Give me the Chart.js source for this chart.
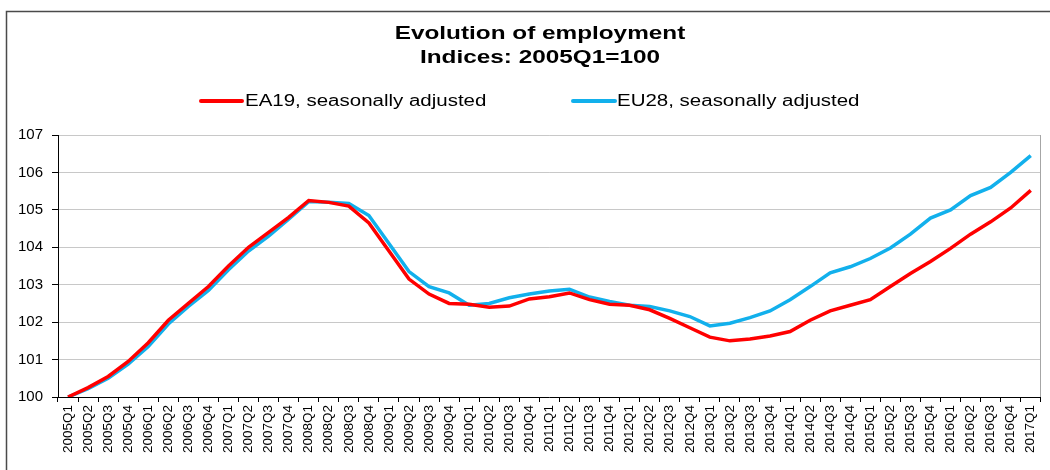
<!DOCTYPE html>
<html>
<head>
<meta charset="utf-8">
<script src="https://cdn.jsdelivr.net/npm/chart.js@4/dist/chart.umd.min.js"></script>
<style>
  html, body { margin: 0; padding: 0; background: #ffffff; }
  #wrap { width: 1050px; height: 470px; }
</style>
</head>
<body>
<div id="wrap"><canvas id="c" width="1050" height="470"></canvas></div>
<script>
// ---- data ----
const categories = [
  '2005Q1','2005Q2','2005Q3','2005Q4',
  '2006Q1','2006Q2','2006Q3','2006Q4',
  '2007Q1','2007Q2','2007Q3','2007Q4',
  '2008Q1','2008Q2','2008Q3','2008Q4',
  '2009Q1','2009Q2','2009Q3','2009Q4',
  '2010Q1','2010Q2','2010Q3','2010Q4',
  '2011Q1','2011Q2','2011Q3','2011Q4',
  '2012Q1','2012Q2','2012Q3','2012Q4',
  '2013Q1','2013Q2','2013Q3','2013Q4',
  '2014Q1','2014Q2','2014Q3','2014Q4',
  '2015Q1','2015Q2','2015Q3','2015Q4',
  '2016Q1','2016Q2','2016Q3','2016Q4',
  '2017Q1'
];
const ea19 = [
  100.00, 100.25, 100.55, 100.95,
  101.45, 102.05, 102.50, 102.95,
  103.50, 104.00, 104.40, 104.80,
  105.25, 105.20, 105.10, 104.65,
  103.90, 103.15, 102.75, 102.50,
  102.48, 102.40, 102.43, 102.62,
  102.68, 102.78, 102.60, 102.48,
  102.45, 102.33, 102.10, 101.85,
  101.60, 101.50, 101.55, 101.63,
  101.75, 102.05, 102.30, 102.45,
  102.60, 102.95, 103.30, 103.62,
  103.97, 104.35, 104.68, 105.05,
  105.52
];
const eu28 = [
  100.00, 100.22, 100.50, 100.88,
  101.35, 101.95, 102.42, 102.85,
  103.40, 103.90, 104.30, 104.75,
  105.22, 105.20, 105.17, 104.85,
  104.10, 103.35, 102.95, 102.78,
  102.45, 102.50, 102.65, 102.75,
  102.83, 102.88, 102.67, 102.55,
  102.45, 102.42, 102.30, 102.15,
  101.90, 101.97, 102.12, 102.30,
  102.60, 102.95, 103.32, 103.48,
  103.70, 103.98, 104.35, 104.78,
  105.00, 105.38, 105.60, 106.00,
  106.45
];
const seriesNames = ['EA19, seasonally adjusted', 'EU28, seasonally adjusted'];
const titleLines = ['Evolution of employment', 'Indices: 2005Q1=100'];
const yMin = 100, yMax = 107, yStep = 1;

// ---- styles ----
const RED = '#ff0000';
const BLUE = '#12b0ec';
const FONT = '"Liberation Sans", Arial, sans-serif';
const STRETCH = 1.28;

// title, legend and frame drawn on the canvas
const decorPlugin = {
  id: 'decor',
  beforeDraw(chart) {
    const ctx = chart.ctx;
    ctx.save();
    ctx.fillStyle = '#ffffff';
    ctx.fillRect(0, 0, chart.width, chart.height);
    // outer frame (left and top edges visible)
    ctx.strokeStyle = '#4a4a4a';
    ctx.lineWidth = 1.5;
    ctx.beginPath();
    ctx.moveTo(6.5, chart.height);
    ctx.lineTo(6.5, 11.5);
    ctx.lineTo(chart.width, 11.5);
    ctx.stroke();
    ctx.restore();
  },
  beforeDatasetsDraw(chart) {
    const a = chart.chartArea;
    const ctx = chart.ctx;
    ctx.save();
    ctx.strokeStyle = '#a6a6a6';
    ctx.lineWidth = 1;
    ctx.beginPath();
    ctx.moveTo(Math.round(a.right) - 0.5, a.bottom);
    ctx.lineTo(Math.round(a.right) - 0.5, a.top);
    ctx.stroke();
    ctx.restore();
  },
  afterDraw(chart) {
    const ctx = chart.ctx;
    ctx.save();
    ctx.fillStyle = '#000000';
    ctx.textBaseline = 'middle';
    // title (horizontally stretched like the reference)
    ctx.save();
    ctx.scale(STRETCH, 1);
    ctx.font = 'bold 19px ' + FONT;
    ctx.textAlign = 'center';
    ctx.fillText(titleLines[0], 540 / STRETCH, 34);
    ctx.fillText(titleLines[1], 540 / STRETCH, 58);
    ctx.restore();
    // legend
    const items = [
      { x0: 201, x1: 242, tx: 245, color: RED, label: chart.data.datasets[0].label },
      { x0: 573, x1: 615, tx: 617, color: BLUE, label: chart.data.datasets[1].label }
    ];
    items.forEach(it => {
      ctx.strokeStyle = it.color;
      ctx.lineWidth = 4;
      ctx.lineCap = 'round';
      ctx.beginPath();
      ctx.moveTo(it.x0, 101);
      ctx.lineTo(it.x1, 101);
      ctx.stroke();
      ctx.save();
      ctx.scale(STRETCH, 1);
      ctx.font = '16px ' + FONT;
      ctx.textAlign = 'left';
      ctx.fillText(it.label, it.tx / STRETCH, 102);
      ctx.restore();
    });
    ctx.restore();
  }
};

new Chart(document.getElementById('c'), {
  type: 'line',
  data: {
    labels: categories,
    datasets: [
      {
        label: seriesNames[0],
        data: ea19,
        borderColor: RED,
        backgroundColor: RED,
        borderWidth: 3.5,
        pointRadius: 0,
        tension: 0,
        fill: false
      },
      {
        label: seriesNames[1],
        data: eu28,
        borderColor: BLUE,
        backgroundColor: BLUE,
        borderWidth: 3.5,
        pointRadius: 0,
        tension: 0,
        fill: false
      }
    ]
  },
  options: {
    responsive: false,
    animation: false,
    devicePixelRatio: 1,
    layout: { padding: { left: 0, top: 135, right: 4, bottom: 0 } },
    plugins: {
      legend: { display: false },
      title: { display: false },
      tooltip: { enabled: false }
    },
    scales: {
      x: {
        type: 'category',
        offset: true,
        grid: {
          offset: true,
          drawOnChartArea: false,
          drawTicks: true,
          tickLength: 5,
          tickColor: '#000000',
          tickWidth: 1
        },
        border: { display: true, color: '#000000', width: 1 },
        ticks: {
          autoSkip: false,
          minRotation: 90,
          maxRotation: 90,
          padding: 3,
          color: '#000000',
          font: { family: FONT, size: 13.5 }
        },
        afterFit(scale) { scale.height = 73; }
      },
      y: {
        min: yMin,
        max: yMax,
        grid: {
          color: '#c8c8c8',
          lineWidth: 1,
          drawTicks: true,
          tickLength: 6,
          tickColor: '#000000'
        },
        border: { display: true, color: '#000000', width: 1 },
        ticks: {
          stepSize: yStep,
          padding: 9,
          color: '#000000',
          font: { family: FONT, size: 15 }
        },
        afterFit(scale) { scale.width = 58; }
      }
    }
  },
  plugins: [decorPlugin]
});
</script>
</body>
</html>
